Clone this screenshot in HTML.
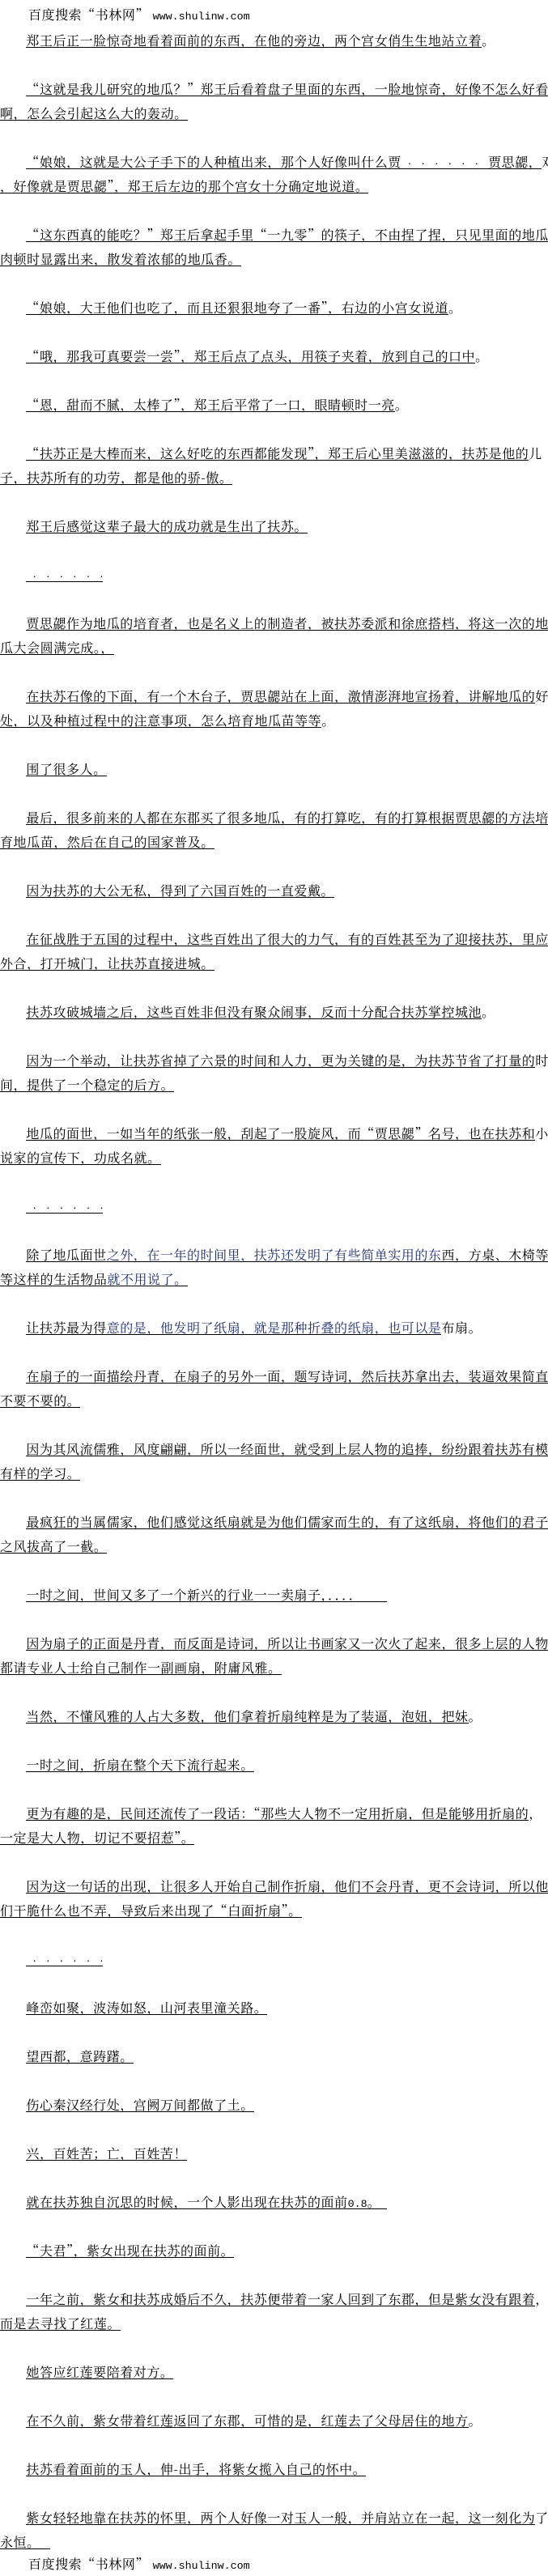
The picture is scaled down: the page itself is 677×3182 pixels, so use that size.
<!DOCTYPE html>
<html lang="zh-CN">
<head>
<meta charset="utf-8">
<title>书林网</title>
<style>
html,body{margin:0;padding:0;background:#fff}
body{position:relative;width:677px;height:3182px;overflow:hidden;font-family:"Noto Serif CJK SC","Liberation Serif",serif;font-size:16px;color:#000}
p{position:absolute;margin:0;left:0;top:calc(42px + 30px*var(--k));height:17px;line-height:16px;white-space:nowrap;letter-spacing:.55px}
p.i{left:32.4px}
u{text-decoration:none;display:inline-block;height:16px;border-bottom:1px solid #000}
b{font-weight:normal;color:#1a2b6b}
.h{position:absolute;left:35px;height:20px;line-height:20px;white-space:nowrap;letter-spacing:.55px}
.m{font-family:"Liberation Mono",monospace;font-size:13.33px;letter-spacing:0}
.d{font-family:"Liberation Sans",sans-serif;font-size:14px;letter-spacing:11.89px;padding-left:8px}
u.w{box-sizing:content-box;width:446px}
u.x{width:95px;overflow:hidden}
</style>
</head>
<body>
<div class="h" style="top:8px">百度搜索“书林网” <span class="m">www.shulinw.com</span></div>
<p class="i" style="--k:0"><u>郑王后正一脸惊奇地看着面前的东西，在他的旁边，两个宫女俏生生地站立着</u>。</p>
<p class="i" style="--k:2"><u>“这就是我儿研究的地瓜？”郑王后看着盘子里面的东西，一脸地惊奇，好像不怎么好看</u></p>
<p style="--k:3"><u>啊，怎么会引起这么大的轰动。</u></p>
<p class="i" style="--k:5"><u>“娘娘，这就是大公子手下的人种植出来，那个人好像叫什么贾<span class="d">······</span>贾思勰，</u>对</p>
<p style="--k:6"><u>，好像就是贾思勰”，郑王后左边的那个宫女十分确定地说道。</u></p>
<p class="i" style="--k:8"><u>“这东西真的能吃？”郑王后拿起手里“一九零”的筷子，不由捏了捏，只见里面的地瓜</u></p>
<p style="--k:9"><u>肉顿时显露出来，散发着浓郁的地瓜香。</u></p>
<p class="i" style="--k:11"><u>“娘娘，大王他们也吃了，而且还狠狠地夸了一番”，右边的小宫女说道</u>。</p>
<p class="i" style="--k:13"><u>“哦，那我可真要尝一尝”，郑王后点了点头，用筷子夹着，放到自己的口中</u>。</p>
<p class="i" style="--k:15"><u>“恩，甜而不腻，太棒了”，郑王后平常了一口，眼睛顿时一亮</u>。</p>
<p class="i" style="--k:17"><u>“扶苏正是大棒而来，这么好吃的东西都能发现”，郑王后心里美滋滋的，扶苏是他的</u>儿</p>
<p style="--k:18"><u>子，扶苏所有的功劳，都是他的骄-傲。</u></p>
<p class="i" style="--k:20"><u>郑王后感觉这辈子最大的成功就是生出了扶苏。</u></p>
<p class="i" style="--k:22"><u class="x"><span class="d">······</span></u></p>
<p class="i" style="--k:24"><u>贾思勰作为地瓜的培育者，也是名义上的制造者，被扶苏委派和徐庶搭档，将这一次的地</u></p>
<p style="--k:25"><u>瓜大会圆满完成。，</u></p>
<p class="i" style="--k:27"><u>在扶苏石像的下面，有一个木台子，贾思勰站在上面，激情澎湃地宣扬着，讲解地瓜的</u>好</p>
<p style="--k:28"><u>处，以及种植过程中的注意事项，怎么培育地瓜苗等等</u>。</p>
<p class="i" style="--k:30"><u>围了很多人。</u></p>
<p class="i" style="--k:32"><u>最后，很多前来的人都在东郡买了很多地瓜，有的打算吃，有的打算根据贾思勰的方法培</u></p>
<p style="--k:33"><u>育地瓜苗，然后在自己的国家普及。</u></p>
<p class="i" style="--k:35"><u>因为扶苏的大公无私，得到了六国百姓的一直爱戴。</u></p>
<p class="i" style="--k:37"><u>在征战胜于五国的过程中，这些百姓出了很大的力气，有的百姓甚至为了迎接扶苏，里应</u></p>
<p style="--k:38"><u>外合，打开城门，让扶苏直接进城。</u></p>
<p class="i" style="--k:40"><u>扶苏攻破城墙之后，这些百姓非但没有聚众闹事，反而十分配合扶苏掌控城池</u>。</p>
<p class="i" style="--k:42"><u>因为一个举动，让扶苏省掉了六景的时间和人力，更为关键的是，为扶苏节省了打量的</u>时</p>
<p style="--k:43"><u>间，提供了一个稳定的后方。</u></p>
<p class="i" style="--k:45"><u>地瓜的面世，一如当年的纸张一般，刮起了一股旋风，而“贾思勰”名号，也在扶苏和</u>小</p>
<p style="--k:46"><u>说家的宣传下，功成名就。</u></p>
<p class="i" style="--k:48"><u class="x"><span class="d">······</span></u></p>
<p class="i" style="--k:50"><u>除了地瓜面世<b>之外，在一年的时间里，扶苏还发明了有些简单实用的东</b>西，方桌、木椅等</u></p>
<p style="--k:51"><u>等这样的生活物品<b>就不用说了。</b></u></p>
<p class="i" style="--k:53"><u>让扶苏最为得<b>意的是，他发明了纸扇，就是那种折叠的纸扇，也可以是</b></u>布扇。</p>
<p class="i" style="--k:55"><u>在扇子的一面描绘丹青，在扇子的另外一面，题写诗词，然后扶苏拿出去，装逼效果简直</u></p>
<p style="--k:56"><u>不要不要的。</u></p>
<p class="i" style="--k:58"><u>因为其风流儒雅，风度翩翩，所以一经面世，就受到上层人物的追捧，纷纷跟着扶苏有模</u></p>
<p style="--k:59"><u>有样的学习。</u></p>
<p class="i" style="--k:61"><u>最疯狂的当属儒家，他们感觉这纸扇就是为他们儒家而生的，有了这纸扇，将他们的君子</u></p>
<p style="--k:62"><u>之风拔高了一截。</u></p>
<p class="i" style="--k:64"><u class="w">一时之间，世间又多了一个新兴的行业一一卖扇子，．．．．</u></p>
<p class="i" style="--k:66"><u>因为扇子的正面是丹青，而反面是诗词，所以让书画家又一次火了起来，很多上层的人物</u></p>
<p style="--k:67"><u>都请专业人士给自己制作一副画扇，附庸风雅。</u></p>
<p class="i" style="--k:69"><u>当然，不懂风雅的人占大多数，他们拿着折扇纯粹是为了装逼，泡妞，把妹</u>。</p>
<p class="i" style="--k:71"><u>一时之间，折扇在整个天下流行起来。</u></p>
<p class="i" style="--k:73"><u>更为有趣的是，民间还流传了一段话：“那些大人物不一定用折扇，但是能够用折扇的</u>，</p>
<p style="--k:74"><u>一定是大人物，切记不要招惹”。</u></p>
<p class="i" style="--k:76"><u>因为这一句话的出现，让很多人开始自己制作折扇，他们不会丹青，更不会诗词，所以他</u></p>
<p style="--k:77"><u>们干脆什么也不弄，导致后来出现了“白面折扇”。</u></p>
<p class="i" style="--k:79"><u class="x"><span class="d">······</span></u></p>
<p class="i" style="--k:81"><u>峰峦如聚，波涛如怒，山河表里潼关路。</u></p>
<p class="i" style="--k:83"><u>望西都，意踌躇。</u></p>
<p class="i" style="--k:85"><u>伤心秦汉经行处，宫阙万间都做了土。</u></p>
<p class="i" style="--k:87"><u>兴，百姓苦；亡，百姓苦！</u></p>
<p class="i" style="--k:89"><u class="w">就在扶苏独自沉思的时候，一个人影出现在扶苏的面前<span class="m">0.8</span>。</u></p>
<p class="i" style="--k:91"><u>“夫君”，紫女出现在扶苏的面前。</u></p>
<p class="i" style="--k:93"><u>一年之前，紫女和扶苏成婚后不久，扶苏便带着一家人回到了东郡，但是紫女没有跟着</u>，</p>
<p style="--k:94"><u>而是去寻找了红莲。</u></p>
<p class="i" style="--k:96"><u>她答应红莲要陪着对方。</u></p>
<p class="i" style="--k:98"><u>在不久前，紫女带着红莲返回了东郡，可惜的是，红莲去了父母居住的地方</u>。</p>
<p class="i" style="--k:100"><u>扶苏看着面前的玉人，伸-出手，将紫女揽入自己的怀中。</u></p>
<p class="i" style="--k:102"><u>紫女轻轻地靠在扶苏的怀里，两个人好像一对玉人一般，并肩站立在一起，这一刻化为</u>了</p>
<p style="--k:103"><u style="width:62px">永恒。</u></p>
<div class="h" style="top:3157px">百度搜索“书林网” <span class="m">www.shulinw.com</span></div>
</body>
</html>
